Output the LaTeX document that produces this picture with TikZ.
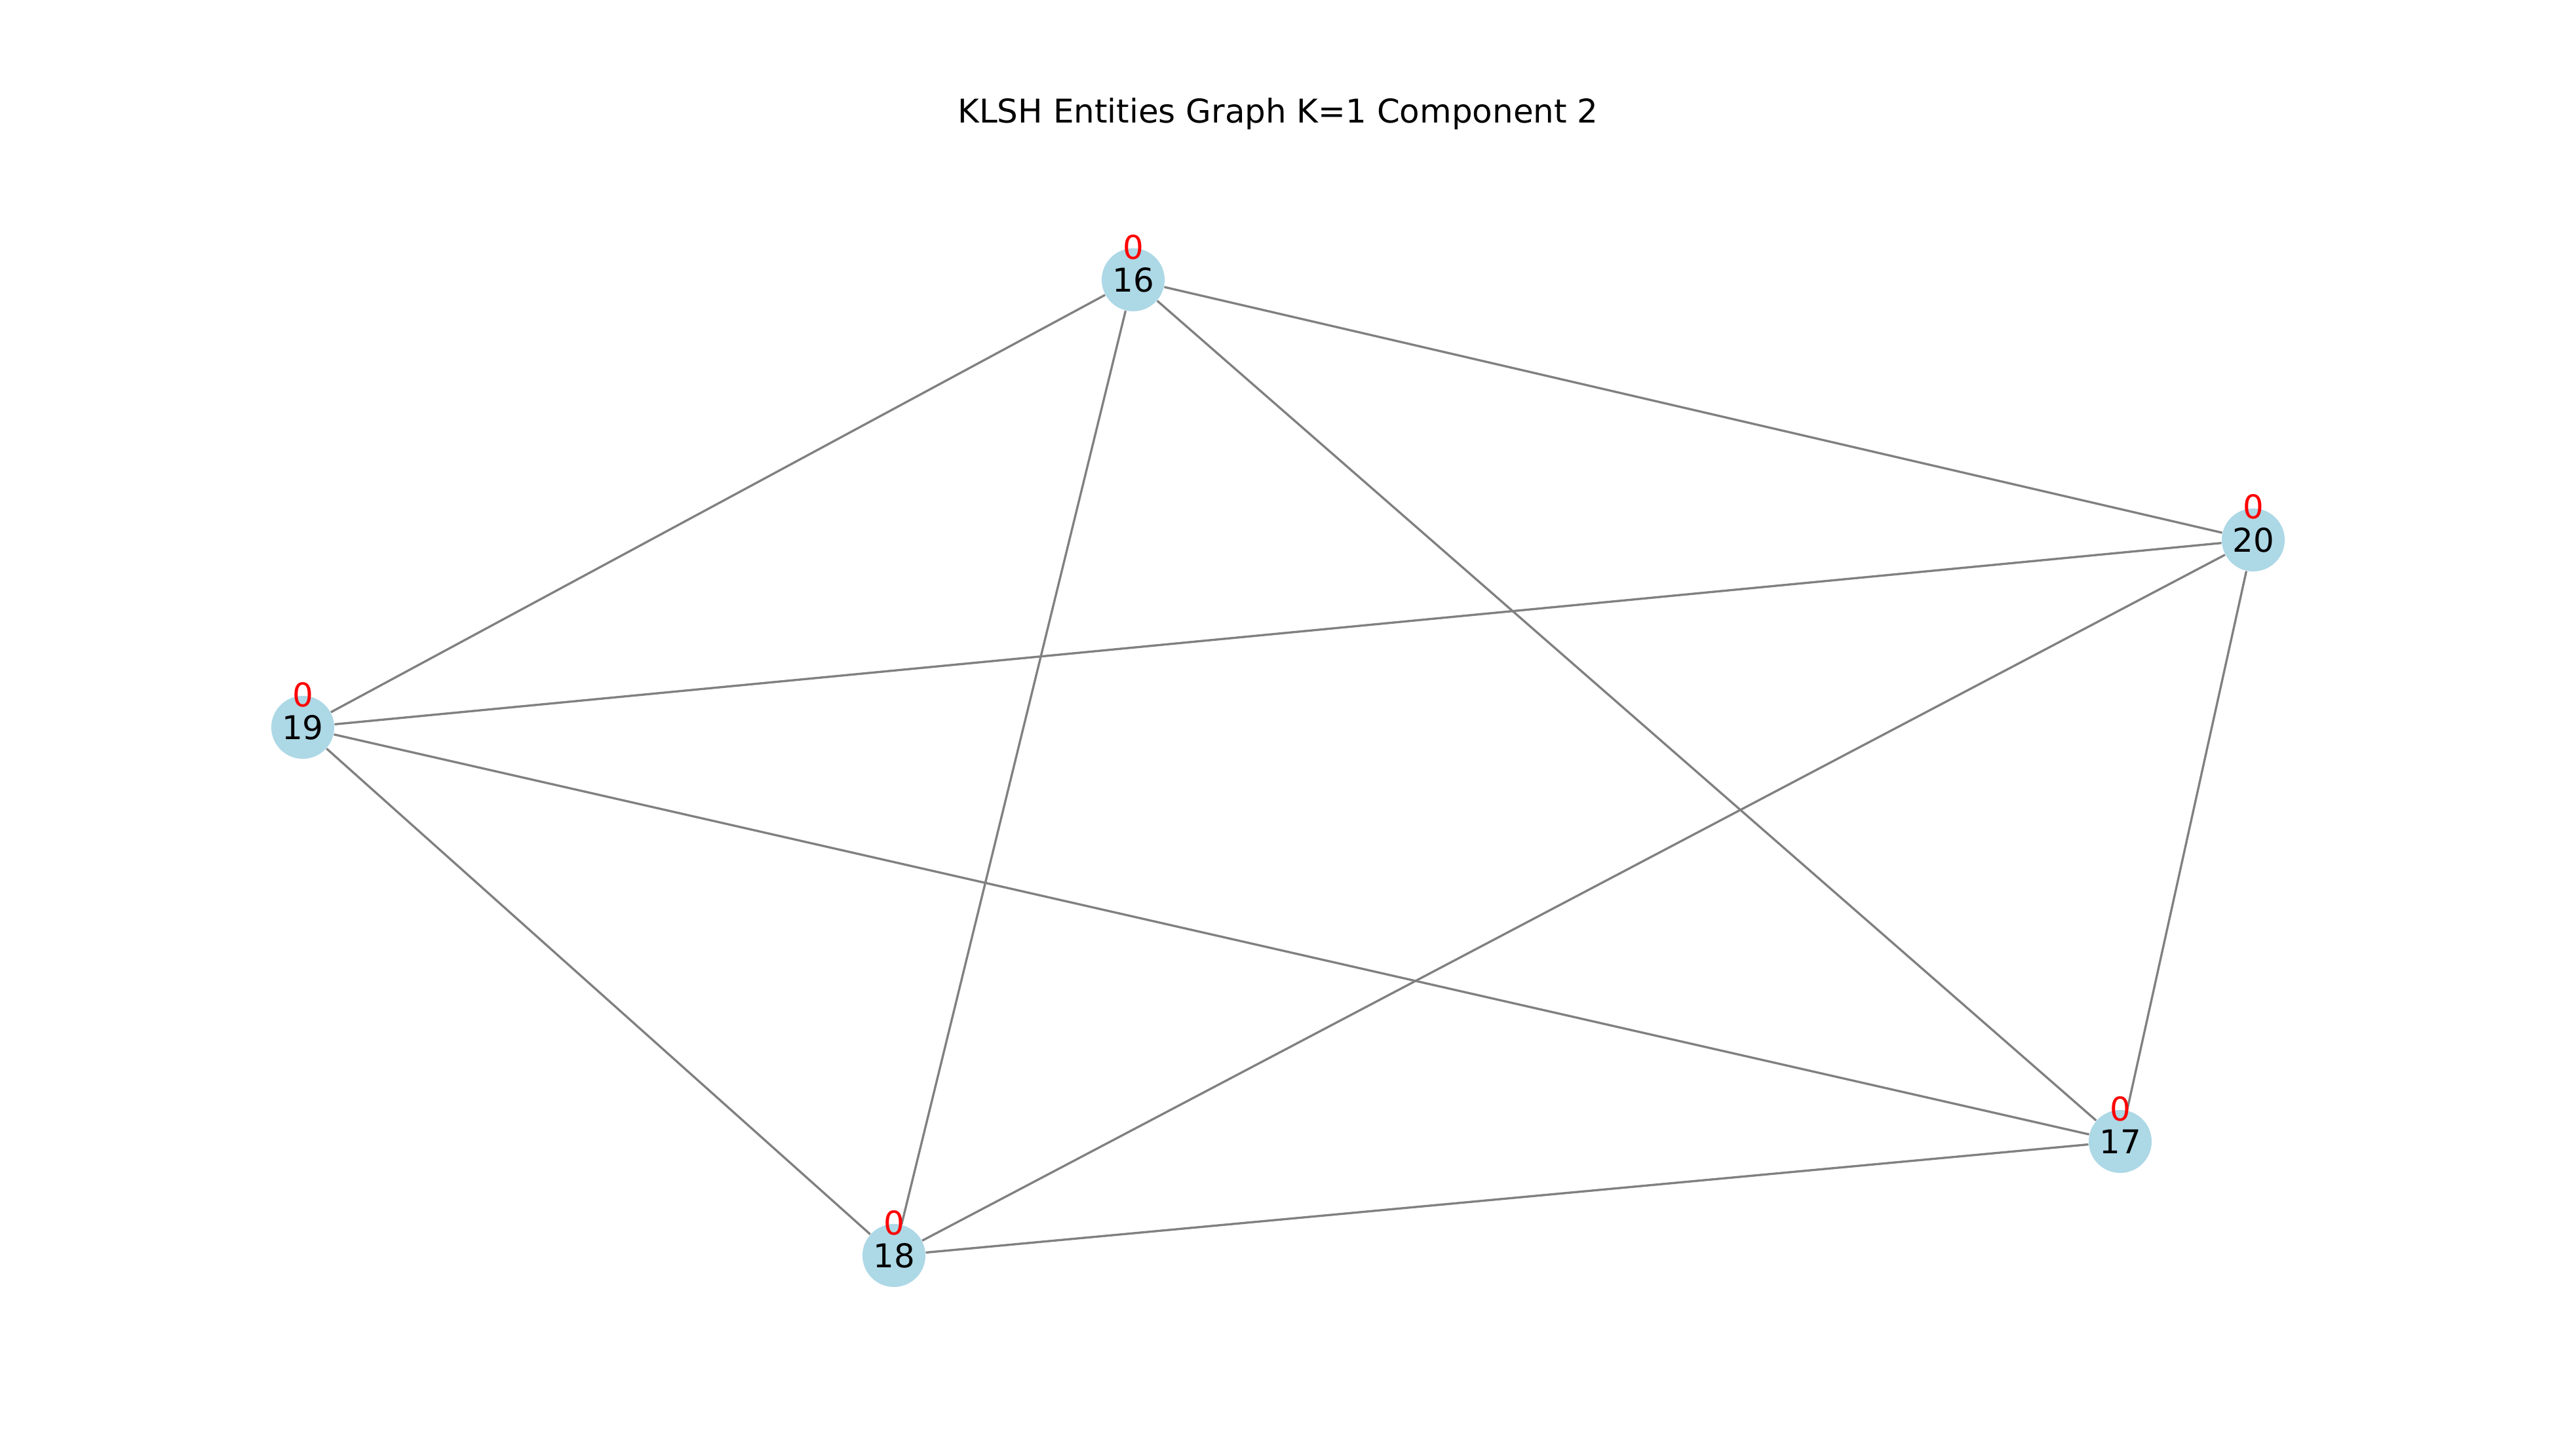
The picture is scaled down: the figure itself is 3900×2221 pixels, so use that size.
\documentclass[tikz,border=0pt]{standalone}
\usepackage{fontspec}
\setmainfont{DejaVu Sans}
\definecolor{nodeblue}{HTML}{ADD8E6}
\definecolor{edgegray}{HTML}{808080}
\begin{document}
\begin{tikzpicture}[x=0.01cm,y=-0.01cm,
  vert/.style={circle,fill=nodeblue,inner sep=0pt,minimum size=0.96cm,font=\fontsize{14.2pt}{16pt}\selectfont},
  cnt/.style={text=red,inner sep=0pt,font=\fontsize{14.2pt}{16pt}\selectfont},
  edge/.style={draw=edgegray,line width=0.95pt}]
\useasboundingbox (0,0) rectangle (3900,2221);
\node[font=\fontsize{14.2pt}{16pt}\selectfont] (title) at (1950,174) {KLSH Entities Graph K=1 Component 2};
\node[vert] (n16) at (1729,427) {16};
\node[vert] (n20) at (3438,824) {20};
\node[vert] (n19) at (462,1110) {19};
\node[vert] (n17) at (3235,1742) {17};
\node[vert] (n18) at (1364,1916) {18};
\foreach \a/\b in {n16/n19,n16/n18,n16/n17,n16/n20,n20/n19,n20/n18,n20/n17,n19/n17,n19/n18,n18/n17}
  \draw[edge] (\a) -- (\b);
\node[cnt] (c16) at (1729,377) {0};
\node[cnt] (c20) at (3438,773) {0};
\node[cnt] (c19) at (462,1060) {0};
\node[cnt] (c17) at (3235,1692) {0};
\node[cnt] (c18) at (1364,1866) {0};
\end{tikzpicture}
\end{document}
